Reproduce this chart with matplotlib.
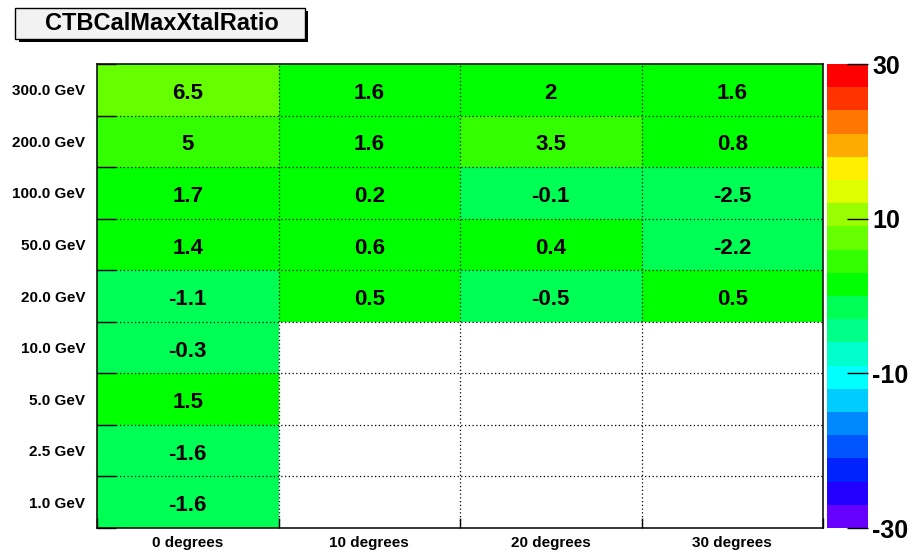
import numpy as np
import matplotlib
matplotlib.use("Agg")
import matplotlib.pyplot as plt
from matplotlib.colors import ListedColormap, BoundaryNorm
from matplotlib.patches import Rectangle

plt.rcParams['font.family'] = ['Liberation Sans', 'DejaVu Sans']

title = "CTBCalMaxXtalRatio"
x_labels = ["0 degrees", "10 degrees", "20 degrees", "30 degrees"]
y_labels = ["1.0 GeV", "2.5 GeV", "5.0 GeV", "10.0 GeV", "20.0 GeV",
            "50.0 GeV", "100.0 GeV", "200.0 GeV", "300.0 GeV"]
nan = np.nan
values = np.array([
    [-1.6, nan, nan, nan],
    [-1.6, nan, nan, nan],
    [1.5, nan, nan, nan],
    [-0.3, nan, nan, nan],
    [-1.1, 0.5, -0.5, 0.5],
    [1.4, 0.6, 0.4, -2.2],
    [1.7, 0.2, -0.1, -2.5],
    [5, 1.6, 3.5, 0.8],
    [6.5, 1.6, 2, 1.6],
])
zmin, zmax = -30, 30
cbar_ticks = [-30, -10, 10, 30]

palette_top_to_bottom = ['#ff0000', '#ff3300', '#ff7700', '#ffaa00', '#ffee00',
                         '#ddff00', '#99ff00', '#66ff00', '#33ff00', '#00ff00',
                         '#00ff55', '#00ff88', '#00ffcc', '#00ffff', '#00ccff',
                         '#0088ff', '#0055ff', '#0022ff', '#2200ff', '#6600ff']
cmap = ListedColormap(palette_top_to_bottom[::-1])
bounds = np.linspace(zmin, zmax, len(palette_top_to_bottom) + 1)
norm = BoundaryNorm(bounds, cmap.N)

W, H = 910, 554
fig = plt.figure(figsize=(W / 100, H / 100), dpi=100)

def px_axes(x0, y0, x1, y1):
    return fig.add_axes([x0 / W, 1 - y1 / H, (x1 - x0) / W, (y1 - y0) / H])

ax = px_axes(97, 64, 823, 528)
nrows, ncols = values.shape
xe = np.arange(ncols + 1)
ye = np.arange(nrows + 1)
ax.pcolormesh(xe, ye, np.ma.masked_invalid(values), cmap=cmap, norm=norm)
ax.set_xlim(0, ncols)
ax.set_ylim(0, nrows)
for i in range(nrows):
    for j in range(ncols):
        v = values[i, j]
        if not np.isnan(v):
            ax.text(j + 0.5, i + 0.43, f"{v:g}", ha='center', va='center',
                    fontsize=16, fontweight='bold')
for xv in xe[1:-1]:
    ax.axvline(xv, color='black', lw=0.9, ls=(0, (1, 2)))
for yv in ye[1:-1]:
    ax.axhline(yv, color='black', lw=0.9, ls=(0, (1, 2)))
ax.set_xticks(xe[:-1] + 0.5)
ax.set_xticklabels(x_labels, fontsize=11, fontweight='bold')
ax.set_yticks(ye[:-1] + 0.5)
ax.set_yticklabels(y_labels, fontsize=11, fontweight='bold')
ax.tick_params(axis='both', length=0)
ax.tick_params(axis='x', pad=5.5)
ax.tick_params(axis='y', pad=8.6)
# ROOT-style bin boundary ticks
ax.set_xticks(xe, minor=True)
ax.set_yticks(ye, minor=True)
ax.tick_params(axis='x', which='minor', direction='in', length=7, width=1)
ax.tick_params(axis='y', which='minor', direction='in', length=14, width=1)
for s in ax.spines.values():
    s.set_linewidth(1.1)

cax = px_axes(827, 64, 868, 528)
cy = bounds
cax.pcolormesh([0, 1], cy, ((cy[:-1] + cy[1:]) / 2)[:, None], cmap=cmap, norm=norm)
cax.set_xlim(0, 1)
cax.set_ylim(zmin, zmax)
cax.set_xticks([])
cax.yaxis.tick_right()
cax.set_yticks(cbar_ticks)
cax.set_yticklabels([str(t) for t in cbar_ticks], fontsize=18, fontweight='bold')
cax.tick_params(axis='y', direction='in', length=15, width=1, pad=3)
for lab in cax.get_yticklabels():
    lab.set_va('center_baseline')
for s in cax.spines.values():
    s.set_visible(False)

# Title box with shadow
def fig_rect(x0, y0, x1, y1, **kw):
    r = Rectangle((x0 / W, 1 - y1 / H), (x1 - x0) / W, (y1 - y0) / H,
                  transform=fig.transFigure, **kw)
    fig.patches.append(r)

fig_rect(19, 11, 308, 42, facecolor='black', edgecolor='none')
fig_rect(15, 8, 305, 39, facecolor='#f2f2f2', edgecolor='black', lw=1)
fig.text(162 / W, 1 - 24 / H, title, ha='center', va='center',
         fontsize=17, fontweight='bold')

fig.savefig("out.png", dpi=100)
